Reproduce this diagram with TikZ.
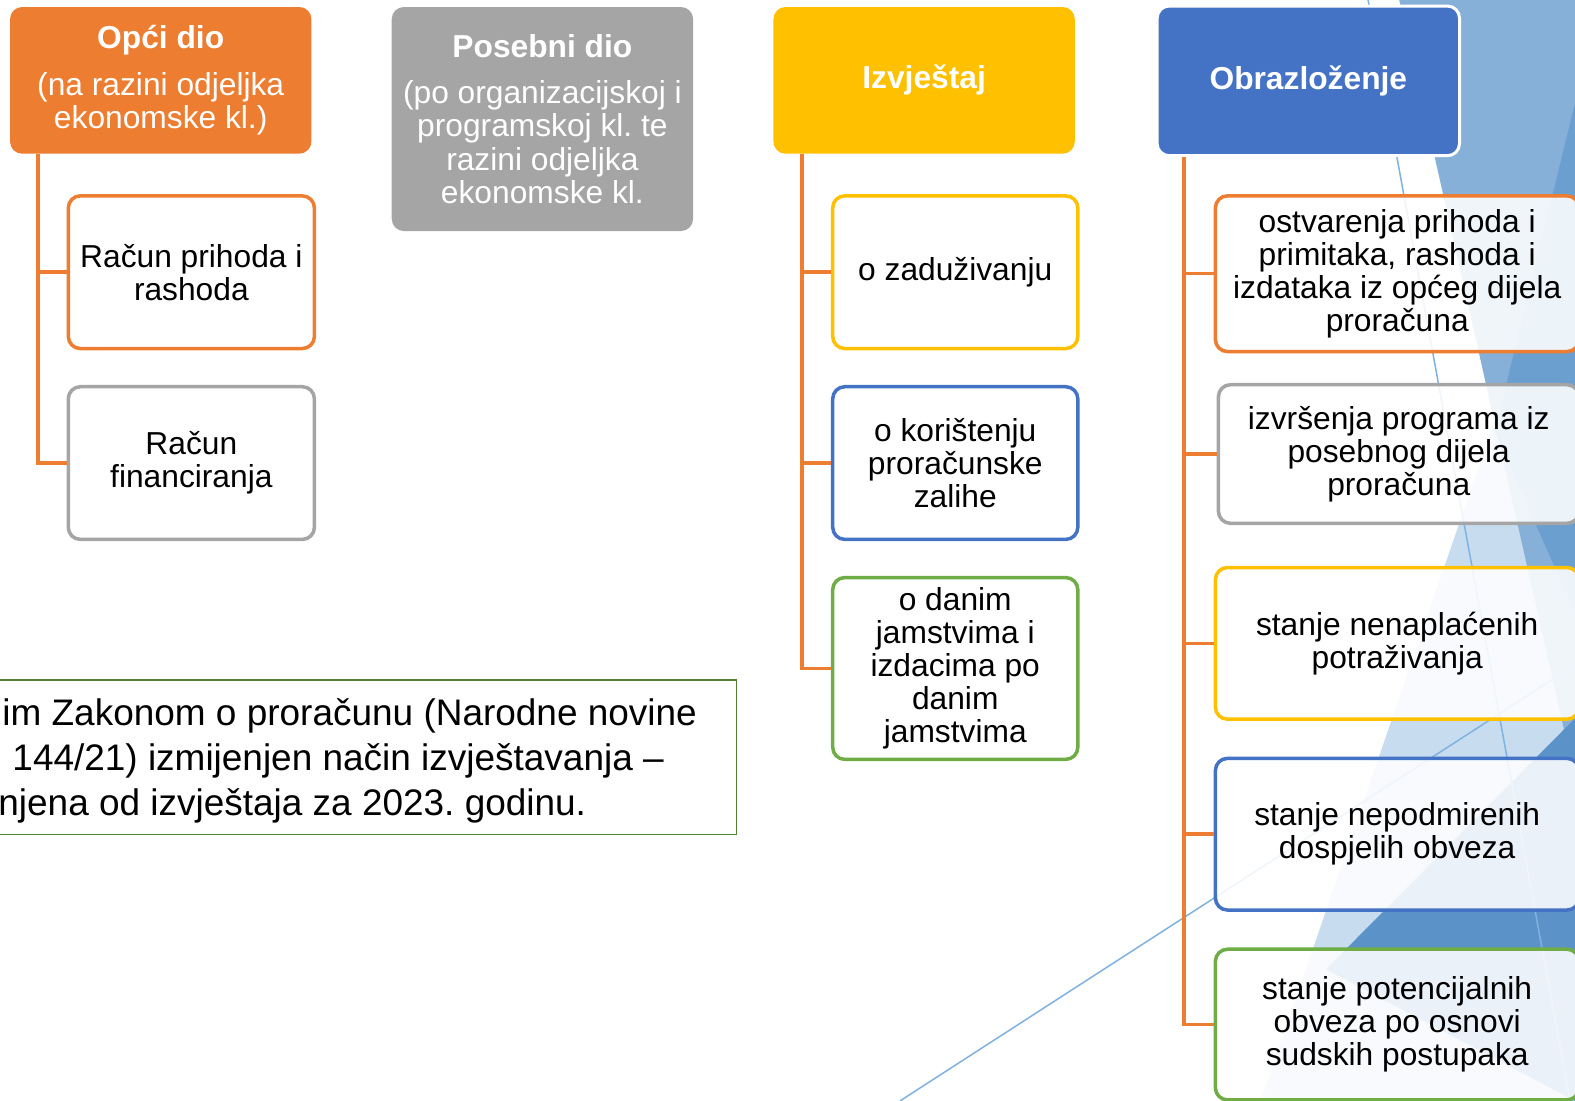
\documentclass[tikz,border=0pt]{standalone}
\usepackage{fontspec}
\setmainfont{Liberation Sans}
\frenchspacing
\definecolor{cOr}{HTML}{ED7D31}
\definecolor{cGr}{HTML}{A5A5A5}
\definecolor{cYe}{HTML}{FFC000}
\definecolor{cBl}{HTML}{4472C4}
\definecolor{cGn}{HTML}{70AD47}
\definecolor{cDg}{HTML}{548235}
\definecolor{bgP}{HTML}{C8DCF0}
\definecolor{bgM}{HTML}{87B0D8}
\definecolor{bgD}{HTML}{6A9FD0}
\definecolor{bgE}{HTML}{5B93C8}
\definecolor{bgL}{HTML}{7FB2E0}
\newcommand{\boxfont}{\fontsize{15.8pt}{16.5pt}\selectfont}
\newcommand{\notefont}{\fontsize{18.4pt}{22.5pt}\selectfont}
\begin{document}
\begin{tikzpicture}[x=0.5pt,y=-0.5pt,
  hdr/.style={rounded corners=6pt, inner sep=0pt, text=white, align=center,
    minimum width=150pt, font=\boxfont},
  child/.style={draw, line width=1.75pt, rounded corners=6pt, fill=white,
    fill opacity=0.88, text opacity=1, inner sep=0pt, align=center, font=\boxfont},
  conn/.style={draw=cOr, line width=1.75pt},
  bgline/.style={draw=bgL, line width=0.75pt},
  noteline/.style={anchor=base west, inner sep=0pt, font=\notefont}]
\useasboundingbox (0,0) rectangle (1568,1096);

% background decoration
\fill[bgP] (1515,340) -- (1568,340) -- (1568,1096) -- (1255,1096) -- cycle;
\fill[bgM] (1393,0) -- (1568,0) -- (1568,775) -- cycle;
\fill[bgD] (1593,0) -- (1488,430) -- (1568,610) -- (1568,0) -- cycle;
\fill[bgE] (1593,690) -- (1320,965) -- (1568,1096) -- cycle;
\draw[bgline] (1362,0) -- (1563,1096);
\draw[bgline] (896,1096) -- (1568,662);

% column 1
\node[hdr, fill=cOr, minimum height=73pt] (h1) at (160,80)
  {\textbf{Opći dio}\\[7pt](na razini odjeljka\\ekonomske kl.)};
\node[child, draw=cOr, minimum width=122.5pt, minimum height=76pt] (a1) at (190.5,271)
  {Račun prihoda i\\rashoda};
\node[child, draw=cGr, minimum width=122.5pt, minimum height=76pt] (a2) at (190.5,461)
  {Račun\\financiranja};
\draw[conn] ([xshift=14pt]h1.south west) |- (a1.west);
\draw[conn] ([xshift=14pt]h1.south west) |- (a2.west);

% column 2
\node[hdr, fill=cGr, minimum height=111.5pt] (h2) at (540,118.5)
  {\textbf{Posebni dio}\\[6.5pt](po organizacijskoj i\\programskoj kl. te\\razini odjeljka\\ekonomske kl.};

% column 3
\node[hdr, fill=cYe, minimum height=73pt] (h3) at (920,80) {\textbf{Izvještaj}};
\node[child, draw=cYe, minimum width=122pt, minimum height=76pt] (b1) at (951,271)
  {o zaduživanju};
\node[child, draw=cBl, minimum width=122pt, minimum height=76pt] (b2) at (951,461)
  {o korištenju\\proračunske\\zalihe};
\node[child, draw=cGn, minimum width=122pt, minimum height=90.5pt] (b3) at (951,665.5)
  {o danim\\jamstvima i\\izdacima po\\danim\\jamstvima};
\draw[conn] ([xshift=14.5pt]h3.south west) |- (b1.west);
\draw[conn] ([xshift=14.5pt]h3.south west) |- (b2.west);
\draw[conn] ([xshift=14.5pt]h3.south west) |- (b3.west);

% column 4
\node[hdr, fill=cBl, draw=white, line width=1.5pt, minimum width=150.5pt,
  minimum height=74.5pt] (h4) at (1302.5,80.5) {\textbf{Obrazloženje}};
\node[child, draw=cOr, minimum width=181pt, minimum height=77.5pt] (d1) at (1391,272.5)
  {ostvarenja prihoda i\\primitaka, rashoda i\\izdataka iz općeg dijela\\proračuna};
\node[child, draw=cGr, minimum width=179.5pt, minimum height=69pt] (d2) at (1392.5,452)
  {izvršenja programa iz\\posebnog dijela\\proračuna};
\node[child, draw=cYe, minimum width=181pt, minimum height=75.5pt] (d3) at (1391,640.5)
  {stanje nenaplaćenih\\potraživanja};
\node[child, draw=cBl, minimum width=181pt, minimum height=75.5pt] (d4) at (1391,830.5)
  {stanje nepodmirenih\\dospjelih obveza};
\node[child, draw=cGn, minimum width=181pt, minimum height=75pt] (d5) at (1391,1020)
  {stanje potencijalnih\\obveza po osnovi\\sudskih postupaka};
\draw[conn] ([xshift=14pt]h4.south west) |- (d1.west);
\draw[conn] ([xshift=14pt]h4.south west) |- (d2.west);
\draw[conn] ([xshift=14pt]h4.south west) |- (d3.west);
\draw[conn] ([xshift=14pt]h4.south west) |- (d4.west);
\draw[conn] ([xshift=14pt]h4.south west) |- (d5.west);

% note box
\node[draw=cDg, line width=0.75pt, inner sep=0pt, minimum width=376.5pt,
  minimum height=77pt] (note) at (356.5,754) {};
\node[noteline] (t1) at (2,722) {im Zakonom o proračunu (Narodne novine};
\node[noteline] (t2) at (12,767) {144/21) izmijenjen način izvještavanja –};
\node[noteline] (t3) at (-2,812) {njena od izvještaja za 2023. godinu.};
\end{tikzpicture}
\end{document}
